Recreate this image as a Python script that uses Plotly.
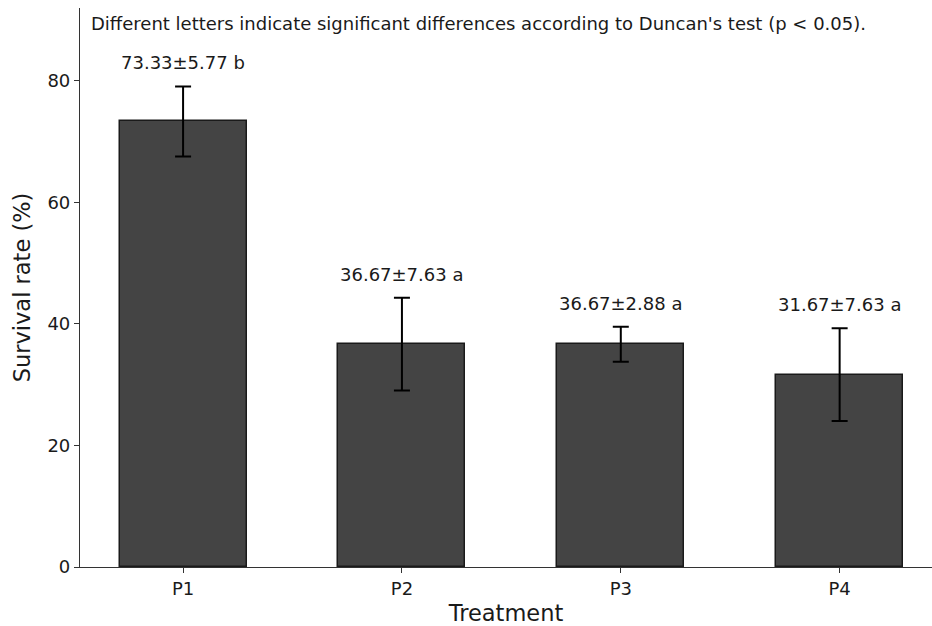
import plotly.graph_objects as go

treatments = ["P1", "P2", "P3", "P4"]
means = [73.33, 36.67, 36.67, 31.67]
sds = [5.77, 7.63, 2.88, 7.63]
letters = ["b", "a", "a", "a"]
y_ticks = [0, 20, 40, 60, 80]

FONT = "DejaVu Sans"
TXT = "#1a1a1a"

fig = go.Figure()
fig.add_trace(go.Bar(
    x=treatments, y=means, width=0.58,
    marker=dict(color="#444444", line=dict(color="#1a1a1a", width=1.5)),
    error_y=dict(type="data", array=sds, visible=True, color="black", thickness=2, width=8),
    hoverinfo="skip",
))

for t, m, s, l in zip(treatments, means, sds, letters):
    fig.add_annotation(
        x=t, y=m + s, text=f"{m:.2f}±{s:.2f} {l}", showarrow=False,
        yanchor="bottom", xanchor="center", yshift=11,
        font=dict(family=FONT, size=18, color=TXT),
    )

fig.add_annotation(
    xref="paper", yref="paper", x=0.011, y=0.972, xanchor="left", yanchor="middle",
    text="Different letters indicate significant differences according to Duncan's test (p < 0.05).",
    showarrow=False, font=dict(family=FONT, size=18, color=TXT),
)

fig.update_layout(
    width=932, height=626,
    margin=dict(l=80, r=0, t=8, b=59),
    paper_bgcolor="white", plot_bgcolor="white",
    showlegend=False,
    font=dict(family=FONT, color=TXT),
    bargap=0,
)
fig.update_xaxes(
    range=[-0.471, 3.422], showline=True, linecolor="#333333", linewidth=1.2,
    ticks="outside", ticklen=5, tickwidth=1.2, tickcolor="#333333",
    tickfont=dict(size=18, family=FONT, color=TXT),
    title=dict(text="Treatment", font=dict(size=22.5, family=FONT, color=TXT), standoff=9),
    showgrid=False, zeroline=False,
)
fig.update_yaxes(
    range=[0, 92], tickvals=y_ticks, showline=True, linecolor="#333333", linewidth=1.2,
    ticks="outside", ticklen=5, tickwidth=1.2, tickcolor="#333333",
    tickfont=dict(size=18, family=FONT, color=TXT),
    title=dict(text="Survival rate (%)", font=dict(size=22.5, family=FONT, color=TXT), standoff=10),
    showgrid=False, zeroline=False,
)

fig.write_html(
    "out.html",
    config={"displayModeBar": False},
    post_script="document.body.style.margin='0';document.body.style.padding='0';",
)
